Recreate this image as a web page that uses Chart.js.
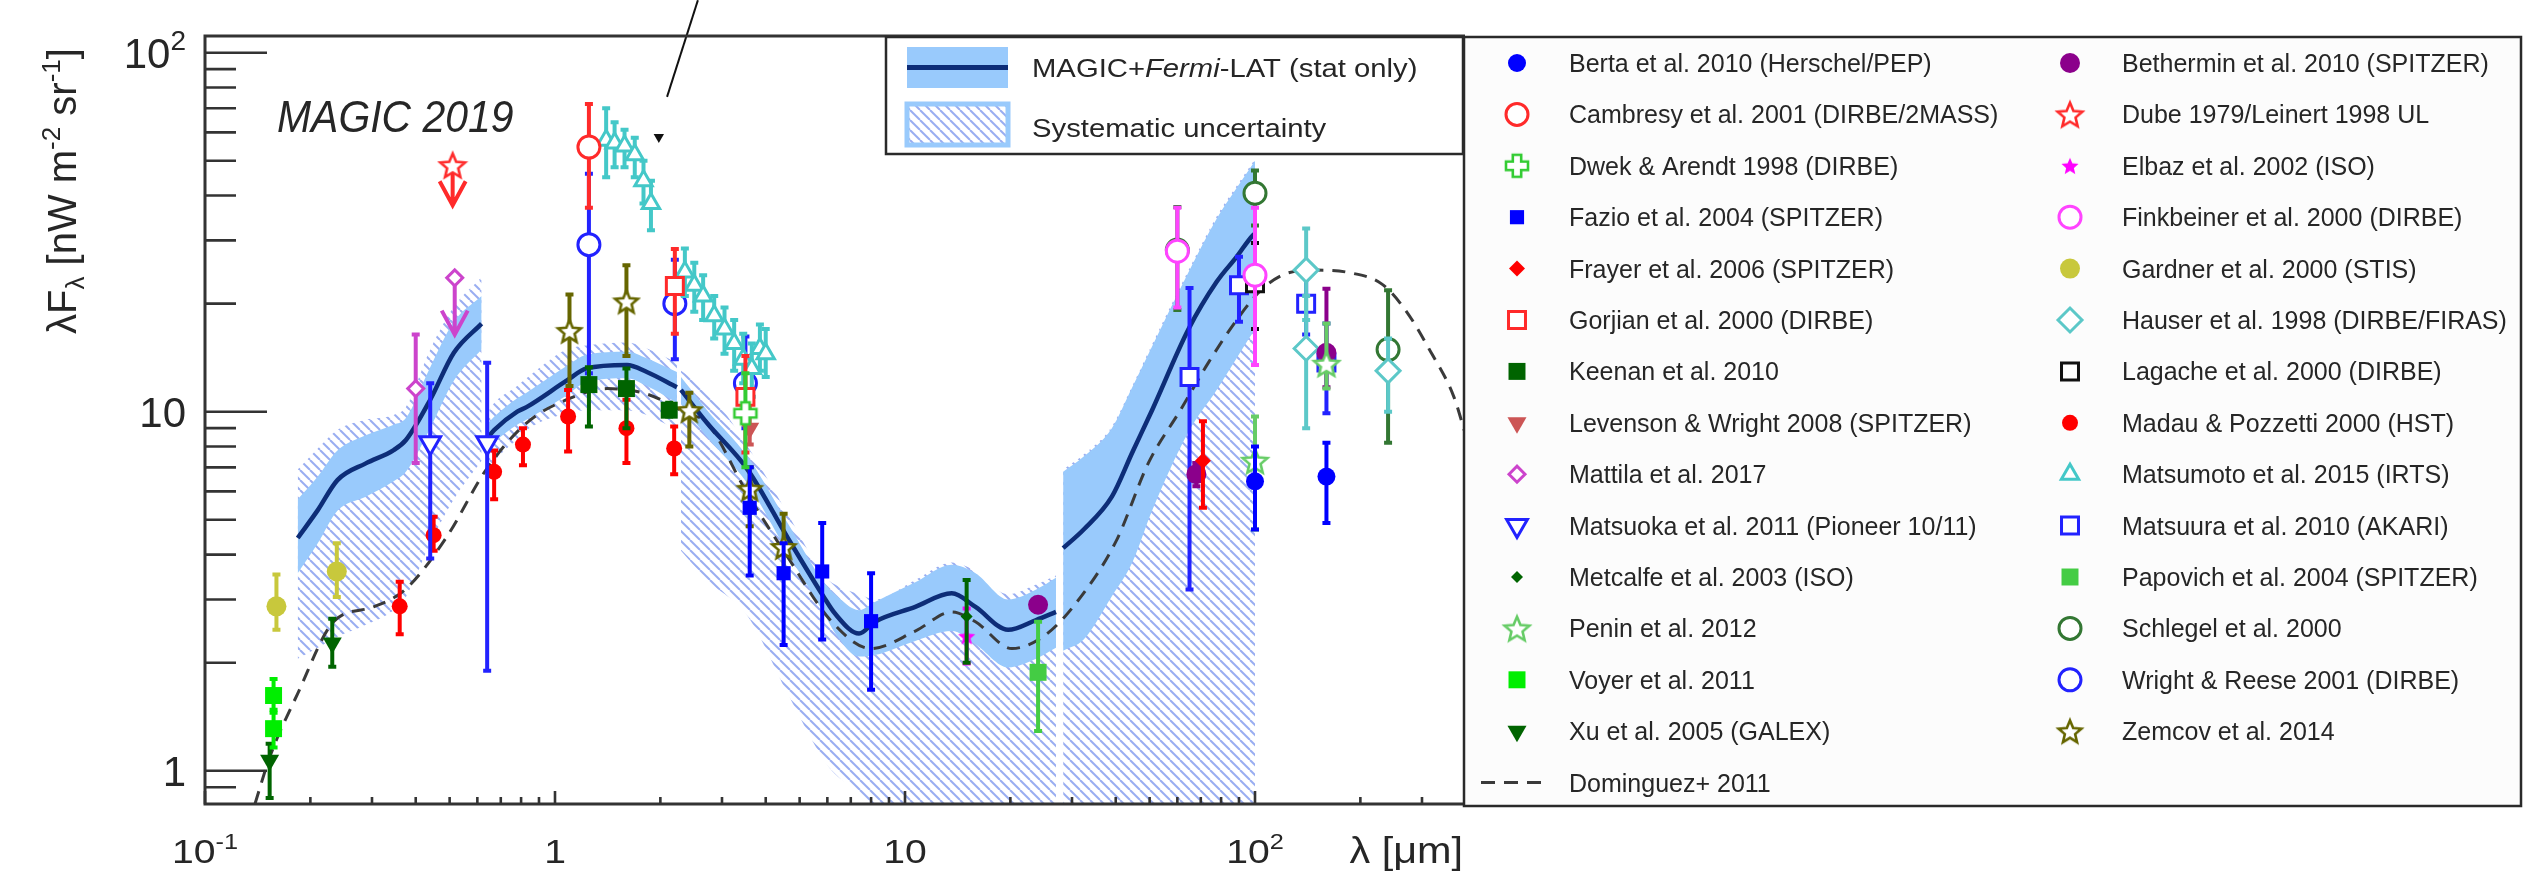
<!DOCTYPE html>
<html>
<head>
<meta charset="utf-8">
<script src="https://cdn.jsdelivr.net/npm/chart.js@4.4.1/dist/chart.umd.min.js"></script>
<style>
  html, body { margin: 0; padding: 0; background: #fff; }
  canvas { display: block; }
</style>
</head>
<body>
<canvas id="ebl" width="2545" height="874"></canvas>
<script>
const FONT = "'Liberation Sans', Arial, Helvetica, sans-serif";
const INK = '#262626';
const NAVY = '#0d2d78';
const BAND = 'rgb(153,202,252)';

// MAGIC+Fermi-LAT EBL pieces: [lambda um, best, statLo, statHi, sysLo, sysHi]
const magicSeg1 = [
  [0.184, 4.45, 3.55, 5.7, 2.05, 6.9],
  [0.21, 5.32, 4.3, 6.6, 2.2, 7.9],
  [0.239, 6.45, 5.3, 7.8, 2.36, 8.9],
  [0.288, 7.18, 5.8, 8.6, 2.55, 9.5],
  [0.346, 7.82, 6.4, 9.2, 2.8, 9.8],
  [0.375, 8.34, 6.8, 9.6, 3.05, 10.3],
  [0.44, 10.8, 9.0, 13.3, 4.3, 14.9],
  [0.514, 14.6, 12.2, 17.8, 5.7, 19.6],
  [0.617, 17.6, 14.9, 21.0, 7.3, 23.7]
];
const magicSeg2 = [
  [0.644, 8.5, 7.8, 9.3, 6.9, 10.0],
  [0.671, 8.9, 8.2, 9.7, 7.3, 10.6],
  [0.78, 10.0, 9.2, 10.9, 8.4, 11.8],
  [0.829, 10.3, 9.5, 11.3, 8.9, 12.4],
  [1.079, 12.2, 11.1, 13.4, 9.9, 14.9],
  [1.23, 13.2, 12.1, 14.4, 10.1, 15.3],
  [1.605, 13.5, 12.4, 14.7, 10.1, 15.6],
  [1.83, 12.9, 11.8, 14.1, 9.8, 15.0],
  [2.23, 11.7, 10.6, 12.9, 8.9, 13.7]
];
const magicSeg3 = [
  [2.29, 11.5, 10.5, 12.5, 4.1, 13.0],
  [2.72, 9.3, 8.5, 10.1, 3.4, 11.5],
  [3.55, 6.9, 6.3, 7.5, 2.7, 8.0],
  [4.62, 4.46, 4.05, 4.9, 1.64, 5.2],
  [5.86, 3.05, 2.75, 3.35, 1.07, 3.5],
  [6.31, 2.74, 2.42, 3.1, 0.98, 3.3],
  [7.39, 2.41, 2.08, 2.8, 0.87, 3.1],
  [8.2, 2.6, 2.1, 2.95, 0.78, 3.0],
  [10.7, 2.86, 2.3, 3.35, 0.5, 3.4],
  [13.6, 3.12, 2.45, 3.75, 0.5, 3.8],
  [15.9, 2.86, 2.25, 3.55, 0.5, 3.6],
  [19.7, 2.47, 1.94, 3.0, 0.5, 3.1],
  [23.7, 2.63, 2.05, 3.2, 0.5, 3.3],
  [27.0, 2.77, 2.2, 3.45, 0.5, 3.5]
];
const magicSeg4 = [
  [28.3, 4.17, 2.16, 6.8, 0.5, 6.9],
  [32.4, 4.7, 2.32, 7.5, 0.5, 7.6],
  [39.0, 5.8, 3.06, 9.0, 0.5, 9.1],
  [44.6, 7.7, 3.8, 11.7, 0.5, 11.8],
  [50.8, 10.1, 5.3, 15.2, 0.5, 15.4],
  [64.6, 17.0, 8.8, 24.5, 0.5, 24.8],
  [77.7, 23.0, 11.5, 34.5, 0.5, 35.0],
  [88.6, 27.0, 14.1, 42.0, 0.5, 42.5],
  [98.6, 31.0, 16.6, 49.0, 0.5, 49.5],
  [100, 31.3, 16.9, 50.0, 0.5, 50.5]
];

// Dominguez+ 2011 model
const dominguezLambda = [0.139, 0.153, 0.184, 0.233, 0.303, 0.375, 0.489, 0.636, 0.829, 1.079, 1.41, 1.83, 2.38, 2.72, 3.55, 4.62, 6.18, 8.0, 10.7, 13.6, 15.9, 20.2, 24.9, 30.8, 40.1, 49.6, 61.2, 73.6, 88.6, 104, 122, 150, 186, 230, 269, 315, 370, 400];
const dominguezFlux = [0.81, 1.09, 1.64, 2.60, 2.86, 3.21, 4.46, 6.9, 9.3, 10.8, 11.6, 11.2, 9.9, 9.3, 5.9, 3.94, 2.60, 2.19, 2.45, 2.77, 2.60, 2.19, 2.37, 2.93, 4.36, 7.2, 10.1, 13.7, 18.0, 21.8, 24.2, 24.8, 24.4, 22.7, 19.2, 14.9, 11.0, 8.6];

// measurements: [lambda, value, low, high]; limits: [lambda, value, arrow tip]
const bertaPts = [[100, 6.4, 4.7, 8.0], [160, 6.6, 4.9, 8.2]];
const cambresyPts = [[1.25, 54.6, 37, 72]];
const dwekPts = [[3.5, 9.9, 7.0, 12.8]];
const fazioPts = [[3.6, 5.4, 3.5, 7.0], [4.5, 3.55, 2.24, 4.3], [5.8, 3.59, 2.32, 4.9], [8.0, 2.61, 1.68, 3.55]];
const frayerPts = [[71, 7.3, 5.4, 9.4]];
const gorjianPts = [[2.2, 22.4, 16.5, 28.4], [3.5, 11.0, 7.7, 14.3]];
const keenanPts = [[1.25, 11.9, 9.1, 13.3], [1.6, 11.6, 9.0, 13.2], [2.12, 10.1, 9.7, 10.6]];
const levensonPts = [[3.6, 9.0, 8.1, 10.7]];
const mattilaPts = [[0.4, 11.6, 7.2, 16.4]];
const mattilaUL = [[0.517, 23.6, 16.4]];
const matsuokaPts = [[0.44, 8.2, 3.9, 12.0], [0.64, 8.2, 1.9, 13.7]];
const metcalfePts = [[15, 2.69, 2.0, 3.4]];
const peninPts = [[100, 7.3, 4.7, 9.7], [160, 13.6, 11.6, 17.6]];
const voyerPts = [[0.157, 1.62, 1.45, 1.80], [0.157, 1.31, 1.16, 1.48]];
const xuPts = [[0.153, 1.07, 0.84, 1.19], [0.231, 2.27, 1.95, 2.65]];
const betherminPts = [[24, 2.9, 2.78, 3.02], [68, 6.7, 6.2, 7.2], [160, 14.6, 11.7, 22.0]];
const dubeUL = [[0.51, 48.6, 37.6]];
const elbazPts = [[15, 2.37, 1.99, 2.83]];
const finkbeinerPts = [[60, 28, 19.5, 37], [100, 24, 13.5, 37]];
const gardnerPts = [[0.16, 2.87, 2.47, 3.52], [0.238, 3.59, 3.05, 4.3]];
const hauserPts = [[140, 24.8, 18, 32.4], [140, 15.0, 9.0, 21], [240, 13.0, 10, 16]];
const lagachePts = [[100, 22.8, 17.0, 29.5]];
const madauPts = [[0.36, 2.87, 2.40, 3.36], [0.45, 4.53, 4.1, 5.1], [0.67, 6.8, 5.7, 7.8], [0.81, 8.1, 7.1, 9.0], [1.09, 9.7, 7.75, 11.5], [1.6, 9.0, 7.2, 10.8], [2.19, 7.9, 6.7, 9.1]];
const matsumotoPts = [[1.4, 57, 45, 70], [1.48, 56, 48, 64], [1.58, 55, 48, 61], [1.69, 52, 45, 58], [1.79, 44, 38, 50], [1.88, 38, 32, 44],
  [2.35, 24.5, 21, 28.5], [2.5, 22.5, 19, 26], [2.65, 21, 18, 24], [2.85, 18.5, 16, 21], [3.05, 17, 14.5, 19.5],
  [3.25, 15.5, 13, 18], [3.45, 14, 12, 16.5], [3.65, 13.2, 11, 15.5], [3.85, 15, 13, 17.5], [4.0, 14.5, 12.5, 17]];
const matsuuraPts = [[65, 12.5, 3.2, 22.1], [90, 22.5, 17.8, 27], [140, 20, 16.4, 24], [160, 13.7, 9.9, 17.6]];
const papovichPts = [[24, 1.88, 1.29, 2.6]];
const schlegelPts = [[60, 28.2, 19.2, 37.2], [100, 40.6, 33, 47], [240, 14.9, 8.2, 21.8]];
const wrightReesePts = [[1.25, 29.2, 12.8, 46], [2.2, 20.0, 14.0, 26.5], [3.5, 12.0, 9.0, 16.2]];
const zemcovPts = [[1.1, 16.8, 11.8, 21.2], [1.6, 20.3, 14.3, 25.6], [2.42, 10.1, 8.0, 11.3], [3.6, 6.1, 4.8, 7.0], [4.5, 4.2, 3.48, 5.2]];

// stray pointer line above the data
const pointerLine = [[2.56, 140], [2.09, 75.3]];
const pointerTip = [[1.98, 58.2]];

// axis ticks
const xMajorTicks = [0.1, 1, 10, 100];
const xTickLabels = [['10', '-1'], ['1', ''], ['10', ''], ['10', '2']];
const yMajorTicks = [1, 10, 100];
const yTickLabels = [['1', ''], ['10', ''], ['10', '2']];

function starMarker(r, color, filled) {
  const lw = 2.6;
  const s = Math.ceil(2 * r + 2 * lw);
  const c = document.createElement('canvas');
  c.width = c.height = s;
  const g = c.getContext('2d');
  g.translate(s / 2, s / 2 + r * 0.1);
  g.beginPath();
  for (let i = 0; i < 10; i++) {
    const rr = i % 2 ? r * 0.45 : r;
    const a = -Math.PI / 2 + i * Math.PI / 5;
    g.lineTo(rr * Math.cos(a), rr * Math.sin(a));
  }
  g.closePath();
  g.fillStyle = filled ? color : '#fff';
  g.fill();
  if (!filled) { g.strokeStyle = color; g.lineWidth = lw; g.stroke(); }
  return c;
}

function crossMarker(r, color) {
  const lw = 2.6, a = r * 0.38;
  const s = Math.ceil(2 * r + 2 * lw);
  const c = document.createElement('canvas');
  c.width = c.height = s;
  const g = c.getContext('2d');
  g.translate(s / 2, s / 2);
  const pts = [[-a, -r], [a, -r], [a, -a], [r, -a], [r, a], [a, a], [a, r], [-a, r], [-a, a], [-r, a], [-r, -a], [-a, -a]];
  g.beginPath();
  pts.forEach(p => g.lineTo(p[0], p[1]));
  g.closePath();
  g.fillStyle = '#fff'; g.fill();
  g.strokeStyle = color; g.lineWidth = lw; g.stroke();
  return c;
}

function hatchPattern() {
  const s = 10;
  const c = document.createElement('canvas');
  c.width = c.height = s;
  const g = c.getContext('2d');
  g.strokeStyle = 'rgba(128,152,238,0.8)';
  g.lineWidth = 2;
  for (let k = -1; k <= 1; k++) {
    g.beginPath(); g.moveTo(k * s, 0); g.lineTo(k * s + s, s); g.stroke();
  }
  return g.createPattern(c, 'repeat');
}
const HATCH = hatchPattern();

const SERIES = [
  {key: 'berta', label: 'Berta et al. 2010 (Herschel/PEP)', rows: bertaPts, color: '#0000ff', style: 'circle', r: 9},
  {key: 'cambresy', label: 'Cambresy et al. 2001 (DIRBE/2MASS)', rows: cambresyPts, color: '#ff2a2a', style: 'circle', r: 11, open: true},
  {key: 'dwek', label: 'Dwek & Arendt 1998 (DIRBE)', rows: dwekPts, color: '#33cc33', style: crossMarker(11, '#33cc33'), r: 11},
  {key: 'fazio', label: 'Fazio et al. 2004 (SPITZER)', rows: fazioPts, color: '#0000ff', style: 'rect', r: 10},
  {key: 'frayer', label: 'Frayer et al. 2006 (SPITZER)', rows: frayerPts, color: '#ff0000', style: 'rectRot', r: 8},
  {key: 'gorjian', label: 'Gorjian et al. 2000 (DIRBE)', rows: gorjianPts, color: '#ff2a2a', style: 'rect', r: 12, open: true},
  {key: 'keenan', label: 'Keenan et al. 2010', rows: keenanPts, color: '#006400', style: 'rect', r: 12},
  {key: 'levenson', label: 'Levenson & Wright 2008 (SPITZER)', rows: levensonPts, color: '#cc5555', style: 'triangle', r: 11, rot: 180},
  {key: 'mattila', label: 'Mattila et al. 2017', rows: mattilaPts, limits: mattilaUL, color: '#cc44cc', style: 'rectRot', r: 8, open: true},
  {key: 'matsuoka', label: 'Matsuoka et al. 2011 (Pioneer 10/11)', rows: matsuokaPts, color: '#2222ff', style: 'triangle', r: 12, rot: 180, open: true},
  {key: 'metcalfe', label: 'Metcalfe et al. 2003 (ISO)', rows: metcalfePts, color: '#006400', style: 'rectRot', r: 6},
  {key: 'penin', label: 'Penin et al. 2012', rows: peninPts, color: '#66cc66', style: starMarker(13, '#66cc66', false), r: 13},
  {key: 'voyer', label: 'Voyer et al. 2011', rows: voyerPts, color: '#00ee00', style: 'rect', r: 12},
  {key: 'xu', label: 'Xu et al. 2005 (GALEX)', rows: xuPts, color: '#006400', style: 'triangle', r: 11, rot: 180},
  {key: 'bethermin', label: 'Bethermin et al. 2010 (SPITZER)', rows: betherminPts, color: '#8b008b', style: 'circle', r: 10},
  {key: 'dube', label: 'Dube 1979/Leinert 1998 UL', rows: [], limits: dubeUL, color: '#ff2a2a', style: starMarker(13, '#ff2a2a', false), r: 13},
  {key: 'elbaz', label: 'Elbaz et al. 2002 (ISO)', rows: elbazPts, color: '#ff00ff', style: starMarker(9, '#ff00ff', true), r: 9},
  {key: 'finkbeiner', label: 'Finkbeiner et al. 2000 (DIRBE)', rows: finkbeinerPts, color: '#ff44ff', style: 'circle', r: 11, open: true},
  {key: 'gardner', label: 'Gardner et al. 2000 (STIS)', rows: gardnerPts, color: '#c8c83c', style: 'circle', r: 10},
  {key: 'hauser', label: 'Hauser et al. 1998 (DIRBE/FIRAS)', rows: hauserPts, color: '#5cc8c8', style: 'rectRot', r: 12, open: true},
  {key: 'lagache', label: 'Lagache et al. 2000 (DIRBE)', rows: lagachePts, color: '#111111', style: 'rect', r: 12, open: true},
  {key: 'madau', label: 'Madau & Pozzetti 2000 (HST)', rows: madauPts, color: '#ff0000', style: 'circle', r: 8},
  {key: 'matsumoto', label: 'Matsumoto et al. 2015 (IRTS)', rows: matsumotoPts, color: '#44c8c8', style: 'triangle', r: 10, open: true},
  {key: 'matsuura', label: 'Matsuura et al. 2010 (AKARI)', rows: matsuuraPts, color: '#2222ff', style: 'rect', r: 12, open: true},
  {key: 'papovich', label: 'Papovich et al. 2004 (SPITZER)', rows: papovichPts, color: '#44cc44', style: 'rect', r: 12},
  {key: 'schlegel', label: 'Schlegel et al. 2000', rows: schlegelPts, color: '#337733', style: 'circle', r: 11, open: true},
  {key: 'wrightReese', label: 'Wright & Reese 2001 (DIRBE)', rows: wrightReesePts, color: '#2222ff', style: 'circle', r: 11, open: true},
  {key: 'zemcov', label: 'Zemcov et al. 2014', rows: zemcovPts, color: '#666600', style: starMarker(12, '#666600', false), r: 12}
];

const legendColumns = [
  ['berta', 'cambresy', 'dwek', 'fazio', 'frayer', 'gorjian', 'keenan', 'levenson', 'mattila', 'matsuoka', 'metcalfe', 'penin', 'voyer', 'xu', 'dominguez'],
  ['bethermin', 'dube', 'elbaz', 'finkbeiner', 'gardner', 'hauser', 'lagache', 'madau', 'matsumoto', 'matsuura', 'papovich', 'schlegel', 'wrightReese', 'zemcov']
];

const pointSets = SERIES.map(s => ({
  type: 'scatter',
  key: s.key,
  label: s.label,
  data: s.rows.map(r => ({x: r[0], y: r[1], lo: r[2], hi: r[3]}))
    .concat((s.limits || []).map(r => ({x: r[0], y: r[1], tip: r[2]}))),
  pointStyle: s.style,
  pointRadius: s.r,
  pointRotation: s.rot || 0,
  pointBackgroundColor: s.open ? '#ffffff' : s.color,
  pointBorderColor: s.color,
  pointBorderWidth: s.open ? 3 : 0,
  barColor: s.color,
  order: 0
}));

const bandSets = [];
[magicSeg1, magicSeg2, magicSeg3, magicSeg4].forEach(seg => {
  const col = i => seg.map(r => ({x: r[0], y: r[i]}));
  const edge = {type: 'line', pointRadius: 0, borderWidth: 0, borderColor: 'rgba(0,0,0,0)', cubicInterpolationMode: 'monotone'};
  bandSets.push(
    Object.assign({}, edge, {data: col(5), fill: '+1', backgroundColor: HATCH, order: 4}),
    Object.assign({}, edge, {data: col(4), fill: false, order: 4}),
    Object.assign({}, edge, {data: col(3), fill: '+1', backgroundColor: BAND, order: 3}),
    Object.assign({}, edge, {data: col(2), fill: false, order: 3}),
    {type: 'line', data: col(1), fill: false, borderColor: NAVY, borderWidth: 4.5, pointRadius: 0, cubicInterpolationMode: 'monotone', order: 1}
  );
});

const dominguezSet = {
  type: 'line', key: 'dominguez', label: 'Dominguez+ 2011',
  data: dominguezLambda.map((x, i) => ({x: x, y: dominguezFlux[i]})),
  borderColor: '#3a3a3a', borderWidth: 3, borderDash: [13, 9], pointRadius: 0,
  fill: false, cubicInterpolationMode: 'monotone', order: 2
};

const pointerSets = [
  {type: 'line', data: pointerLine.map(p => ({x: p[0], y: p[1]})), borderColor: '#111', borderWidth: 2, pointRadius: 0, fill: false, clip: false, order: 0},
  {type: 'scatter', data: pointerTip.map(p => ({x: p[0], y: p[1]})), pointStyle: 'triangle', pointRotation: 180, pointRadius: 6, pointBackgroundColor: '#111', pointBorderWidth: 0, order: 0}
];

// error bars and upper-limit arrows, drawn right under each series' markers
const errorBars = {
  id: 'errorBars',
  beforeDatasetDraw(chart, args) {
    const ds = chart.data.datasets[args.index];
    if (!ds.barColor) return;
    const {ctx, chartArea: a} = chart;
    const sx = chart.scales.x, sy = chart.scales.y;
    ctx.save();
    ctx.beginPath(); ctx.rect(a.left, a.top, a.width, a.height); ctx.clip();
    ctx.strokeStyle = ds.barColor;
    ctx.lineWidth = 4;
    ds.data.forEach(p => {
      const px = sx.getPixelForValue(p.x);
      const py = sy.getPixelForValue(p.y);
      ctx.beginPath();
      if (p.tip !== undefined) {
        const pt = sy.getPixelForValue(p.tip);
        ctx.moveTo(px, py); ctx.lineTo(px, pt);
        ctx.moveTo(px - 13, pt - 24); ctx.lineTo(px, pt); ctx.lineTo(px + 13, pt - 24);
      } else {
        const pl = sy.getPixelForValue(p.lo), ph = sy.getPixelForValue(p.hi);
        ctx.moveTo(px, ph); ctx.lineTo(px, pl);
        ctx.moveTo(px - 4, ph); ctx.lineTo(px + 4, ph);
        ctx.moveTo(px - 4, pl); ctx.lineTo(px + 4, pl);
      }
      ctx.stroke();
    });
    ctx.restore();
  }
};

function putText(ctx, parts, x, y, align, stretch) {
  ctx.save();
  let w = 0;
  const fontOf = p => (p.italic ? 'italic ' : '') + p.size + 'px ' + FONT;
  parts.forEach(p => { ctx.font = fontOf(p); p.w = ctx.measureText(p.t).width; w += p.w; });
  ctx.translate(x, y);
  ctx.scale(stretch || 1, 1);
  let cx = align === 'right' ? -w : align === 'center' ? -w / 2 : 0;
  ctx.textAlign = 'left';
  ctx.textBaseline = 'alphabetic';
  parts.forEach(p => { ctx.font = fontOf(p); ctx.fillText(p.t, cx, p.dy || 0); cx += p.w; });
  ctx.restore();
}

function powerParts(base, exp, size) {
  const parts = [{t: base, size: size}];
  if (exp) parts.push({t: exp, size: Math.round(size * 0.66), dy: -Math.round(size * 0.42)});
  return parts;
}

function minorValues(lo, hi) {
  const out = [];
  for (let e = -2; e <= 3; e++) {
    for (let m = 2; m <= 9; m++) {
      const v = m * Math.pow(10, e);
      if (v > lo && v < hi) out.push(v);
    }
  }
  return out;
}

const decor = {
  id: 'decor',
  afterDatasetsDraw(chart) {
    const {ctx, chartArea: a} = chart;
    const sx = chart.scales.x, sy = chart.scales.y;
    ctx.save();
    ctx.strokeStyle = '#333';
    ctx.lineWidth = 3;
    ctx.beginPath();
    ctx.moveTo(a.right, a.top); ctx.lineTo(a.left, a.top);
    ctx.lineTo(a.left, a.bottom); ctx.lineTo(a.right, a.bottom);
    ctx.stroke();
    ctx.lineWidth = 2.6;
    ctx.beginPath();
    yMajorTicks.forEach(v => { const y = sy.getPixelForValue(v); ctx.moveTo(a.left, y); ctx.lineTo(a.left + 62, y); });
    minorValues(sy.min, sy.max).forEach(v => { const y = sy.getPixelForValue(v); ctx.moveTo(a.left, y); ctx.lineTo(a.left + 31, y); });
    xMajorTicks.forEach(v => { const x = sx.getPixelForValue(v); ctx.moveTo(x, a.bottom); ctx.lineTo(x, a.bottom - 13); });
    minorValues(sx.min, sx.max).forEach(v => { const x = sx.getPixelForValue(v); ctx.moveTo(x, a.bottom); ctx.lineTo(x, a.bottom - 7); });
    ctx.stroke();
    ctx.restore();
  },
  afterDraw(chart) {
    const {ctx, chartArea: a} = chart;
    const sx = chart.scales.x, sy = chart.scales.y;
    ctx.save();
    ctx.fillStyle = INK;

    // tick labels
    yMajorTicks.forEach((v, i) => {
      putText(ctx, powerParts(yTickLabels[i][0], yTickLabels[i][1], 42), a.left - 19, sy.getPixelForValue(v) + 15, 'right');
    });
    xMajorTicks.forEach((v, i) => {
      putText(ctx, powerParts(xTickLabels[i][0], xTickLabels[i][1], 34), sx.getPixelForValue(v), 863, 'center', 1.15);
    });

    // axis titles
    putText(ctx, [{t: '\u03bb [\u03bcm]', size: 36}], a.right - 2, 863, 'right', 1.15);
    ctx.save();
    ctx.translate(76, 334);
    ctx.rotate(-Math.PI / 2);
    putText(ctx, [
      {t: '\u03bbF', size: 40}, {t: '\u03bb', size: 26, dy: 8},
      {t: ' [nW m', size: 40}, {t: '-2', size: 26, dy: -16},
      {t: ' sr', size: 40}, {t: '-1', size: 26, dy: -16}, {t: ']', size: 40}
    ], 0, 0, 'left');
    ctx.restore();

    putText(ctx, [{t: 'MAGIC 2019', size: 44, italic: true}], 277, 132, 'left', 0.93);

    // upper legend box
    ctx.fillStyle = '#fff';
    ctx.fillRect(886, 37, 577, 117);
    ctx.strokeStyle = '#2a2a2a'; ctx.lineWidth = 2.5;
    ctx.strokeRect(886, 37, 577, 117);
    ctx.fillStyle = BAND;
    ctx.fillRect(907, 47, 101, 41);
    ctx.strokeStyle = NAVY; ctx.lineWidth = 5;
    ctx.beginPath(); ctx.moveTo(907, 67.5); ctx.lineTo(1008, 67.5); ctx.stroke();
    ctx.fillStyle = '#fff';
    ctx.fillRect(907, 104, 101, 41);
    ctx.fillStyle = HATCH;
    ctx.fillRect(907, 104, 101, 41);
    ctx.strokeStyle = BAND; ctx.lineWidth = 5;
    ctx.strokeRect(907, 104, 101, 41);
    ctx.fillStyle = INK;
    putText(ctx, [{t: 'MAGIC+', size: 25}, {t: 'Fermi', size: 25, italic: true}, {t: '-LAT (stat only)', size: 25}], 1032, 77, 'left', 1.17);
    putText(ctx, [{t: 'Systematic uncertainty', size: 25}], 1032, 137, 'left', 1.17);

    // measurement legend panel
    ctx.fillStyle = '#fcfcfc';
    ctx.fillRect(1464, 37, 1057, 769);
    ctx.strokeStyle = '#2a2a2a'; ctx.lineWidth = 2.5;
    ctx.strokeRect(1464, 37, 1057, 769);
    const byKey = {};
    chart.data.datasets.forEach(d => { if (d.key) byKey[d.key] = d; });
    const colX = [[1517, 1569], [2070, 2122]];
    legendColumns.forEach((keys, c) => {
      keys.forEach((k, r) => {
        const d = byKey[k];
        const y = 63 + r * 51.4;
        const mx = colX[c][0];
        if (k === 'dominguez') {
          ctx.strokeStyle = d.borderColor; ctx.lineWidth = 3;
          ctx.setLineDash([14, 9]);
          ctx.beginPath(); ctx.moveTo(1481, y); ctx.lineTo(1548, y); ctx.stroke();
          ctx.setLineDash([]);
        } else {
          ctx.fillStyle = d.pointBackgroundColor;
          ctx.strokeStyle = d.pointBorderColor;
          ctx.lineWidth = d.pointBorderWidth;
          Chart.helpers.drawPoint(ctx, {
            pointStyle: d.pointStyle, radius: d.pointRadius, rotation: d.pointRotation,
            borderWidth: d.pointBorderWidth
          }, mx, y);
        }
        ctx.fillStyle = INK;
        putText(ctx, [{t: d.label, size: 25}], colX[c][1], y + 9, 'left');
      });
    });
    ctx.restore();
  }
};

new Chart(document.getElementById('ebl'), {
  type: 'scatter',
  data: {datasets: pointSets.concat(pointerSets, [dominguezSet], bandSets)},
  options: {
    responsive: false,
    animation: false,
    devicePixelRatio: 1,
    events: [],
    layout: {padding: {left: 0, right: 1080, top: 36, bottom: 0}},
    plugins: {legend: {display: false}, tooltip: {enabled: false}},
    scales: {
      x: {
        type: 'logarithmic', min: 0.1, max: 398.1, bounds: 'data',
        ticks: {display: false}, grid: {display: false}, border: {display: false},
        afterFit: s => { s.height = 70; }
      },
      y: {
        type: 'logarithmic', min: 0.808, max: 111.3, bounds: 'data',
        ticks: {display: false}, grid: {display: false}, border: {display: false},
        afterFit: s => { s.width = 205; }
      }
    }
  },
  plugins: [errorBars, decor]
});
</script>
</body>
</html>
